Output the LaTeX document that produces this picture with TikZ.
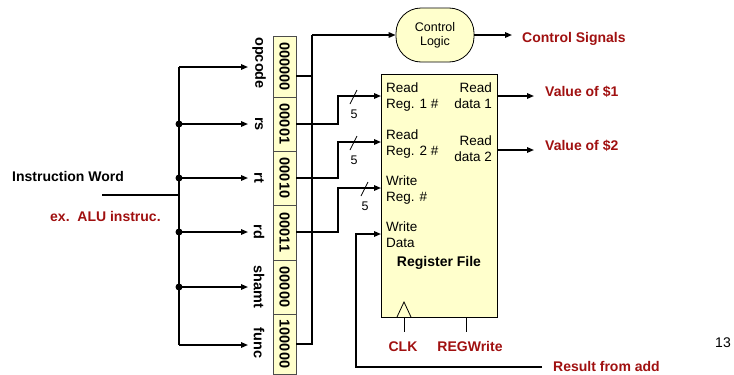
\documentclass[tikz,border=0pt]{standalone}
\usepackage{fontspec}
\setmainfont{Liberation Sans}
\usetikzlibrary{arrows.meta}
\definecolor{dred}{RGB}{160,16,16}
\definecolor{pyel}{RGB}{255,255,204}
\begin{document}
\begin{tikzpicture}[x=1pt,y=-1pt,
  wire/.style={line width=1.5pt},
  arr/.style={wire,-{Triangle[length=7pt,width=5.5pt]}},
  thin/.style={line width=0.8pt},
  bfl/.style={font=\fontsize{14}{16}\selectfont\bfseries, inner sep=0pt},
  redl/.style={bfl, text=dred},
  field/.style={draw=black!70, line width=0.8pt, fill=pyel, rotate=-90, minimum height=23pt, inner sep=0pt, font=\fontsize{14.5}{16}\selectfont\bfseries},
  flabel/.style={rotate=-90, inner sep=0pt, font=\fontsize{14.5}{16}\selectfont\bfseries},
  rft/.style={inner sep=0pt, font=\fontsize{13.5}{16}\selectfont},
  dot/.style={circle, fill=black, inner sep=0pt, minimum size=7pt}
]
\useasboundingbox (0,0) rectangle (734,375);

% instruction word fields
\node[field, minimum width=61pt] (fop) at (284.5,66.5) {000000};
\node[field, minimum width=54pt] (frs) at (284.5,124) {00001};
\node[field, minimum width=54pt] (frt) at (284.5,178) {00010};
\node[field, minimum width=55pt] (frd) at (284.5,232.5) {00011};
\node[field, minimum width=54pt] (fsh) at (284.5,287) {00000};
\node[field, minimum width=60pt] (ffn) at (284.5,344) {100000};

% field labels
\node[flabel] (lop) at (259,63) {opcode};
\node[flabel] (lrs) at (259,124) {rs};
\node[flabel] (lrt) at (259,178) {rt};
\node[flabel] (lrd) at (259,232) {rd};
\node[flabel] (lsh) at (259,287) {shamt};
\node[flabel] (lfn) at (259,343) {func};

% left texts
\node[bfl, anchor=base west] (iw) at (12,181) {Instruction Word};
\node[redl, anchor=base west] (ex) at (50,221) {ex.\ \ ALU instruc.};

% bus
\coordinate (btop) at (179,67);
\coordinate (bbot) at (179,345);
\coordinate (iwin) at (102,195);
\coordinate (iwj) at (179,195);
\node[dot] (d1) at (179,124) {};
\node[dot] (d2) at (179,178) {};
\node[dot] (d3) at (179,232) {};
\node[dot] (d4) at (179,287) {};
\draw[wire] (btop) -- (bbot);
\draw[wire] (iwin) -- (iwj);
\coordinate (aop) at (248,67);
\coordinate (ars) at (248,124);
\coordinate (art) at (248,178);
\coordinate (ard) at (248,232);
\coordinate (ash) at (248,287);
\coordinate (afn) at (248,345);
\draw[arr] (btop) -- (aop);
\draw[arr] (d1.center) -- (ars);
\draw[arr] (d2.center) -- (art);
\draw[arr] (d3.center) -- (ard);
\draw[arr] (d4.center) -- (ash);
\draw[arr] (bbot) -- (afn);

% control logic
\node[draw, line width=0.8pt, fill=pyel, rounded corners=25pt, minimum width=78pt, minimum height=54pt, inner sep=0pt,
      align=center, font=\fontsize{12.5}{14}\selectfont] (ctl) at (435,35) {Control\\Logic};
\node[redl, anchor=base west] (cs) at (522,42) {Control Signals};
\coordinate (csa) at (512,35);
\draw[arr] (ctl.east) -- (csa);
\coordinate (opo) at (296,76);
\coordinate (fno) at (296,344);
\coordinate (cb) at (312,35);
\draw[wire] (opo) -- (312,76);
\draw[wire] (fno) -- (312,344) -- (cb);
\draw[arr] (cb) -- (ctl.west);

% register file
\node[draw, line width=0.8pt, fill=pyel, minimum width=116pt, minimum height=243pt, inner sep=0pt] (rf) at (439,195.5) {};
\node[rft, anchor=base west] (t1a) at (386,92) {Read};
\node[rft, anchor=base west] (t1b) at (386,108) {Reg. 1 \#};
\node[rft, anchor=base west] (t2a) at (386,139) {Read};
\node[rft, anchor=base west] (t2b) at (386,155) {Reg. 2 \#};
\node[rft, anchor=base west] (t3a) at (386,185) {Write};
\node[rft, anchor=base west] (t3b) at (386,201) {Reg. \#};
\node[rft, anchor=base west] (t4a) at (386,231) {Write};
\node[rft, anchor=base west] (t4b) at (386,247) {Data};
\node[rft, anchor=base east] (o1a) at (492,92) {Read};
\node[rft, anchor=base east] (o1b) at (492,108) {data 1};
\node[rft, anchor=base east] (o2a) at (492,145) {Read};
\node[rft, anchor=base east] (o2b) at (492,161) {data 2};
\node[bfl, anchor=base] (rft) at (439,266) {Register File};

% register inputs
\coordinate (rso) at (296,124);
\coordinate (rto) at (296,178);
\coordinate (rdo) at (296,232);
\coordinate (in1) at (381,96);
\coordinate (in2) at (381,142);
\coordinate (in3) at (381,188);
\coordinate (in4) at (381,234);
\draw[arr] (rso) -- (338,124) -- (338,96) -- (in1);
\draw[arr] (rto) -- (338,178) -- (338,142) -- (in2);
\draw[arr] (rdo) -- (338,232) -- (338,188) -- (in3);
\draw[thin] (350,104) -- (357,90);
\draw[thin] (350,150) -- (357,136);
\draw[thin] (361,196) -- (368,182);
\node[rft, font=\fontsize{12.5}{14}\selectfont] (n1) at (354,114) {5};
\node[rft, font=\fontsize{12.5}{14}\selectfont] (n2) at (354,160) {5};
\node[rft, font=\fontsize{12.5}{14}\selectfont] (n3) at (365,206) {5};

% write data
\node[redl, anchor=base west] (res) at (553,371) {Result from add};
\coordinate (rese) at (542,367);
\draw[arr] (rese) -- (356,367) -- (356,234) -- (in4);

% outputs
\coordinate (ou1) at (497,96);
\coordinate (ou2) at (497,150);
\coordinate (ou1e) at (534,96);
\coordinate (ou2e) at (534,150);
\draw[arr] (ou1) -- (ou1e);
\draw[arr] (ou2) -- (ou2e);
\node[redl, anchor=base west] (v1) at (545,96) {Value of \$1};
\node[redl, anchor=base west] (v2) at (545,150) {Value of \$2};

% clock and regwrite
\draw[thin] (397,317) -- (404,302) -- (411,317);
\coordinate (clk1) at (404,317);
\coordinate (clk2) at (404,332);
\coordinate (rw1) at (466,317);
\coordinate (rw2) at (466,332);
\draw[thin] (clk1) -- (clk2);
\draw[thin] (rw1) -- (rw2);
\node[redl, anchor=base] (clk) at (403,351) {CLK};
\node[redl, anchor=base] (rw) at (470,351) {REGWrite};

\node[rft, font=\fontsize{14}{16}\selectfont, anchor=base east] (pg) at (731,347) {13};
\end{tikzpicture}
\end{document}
